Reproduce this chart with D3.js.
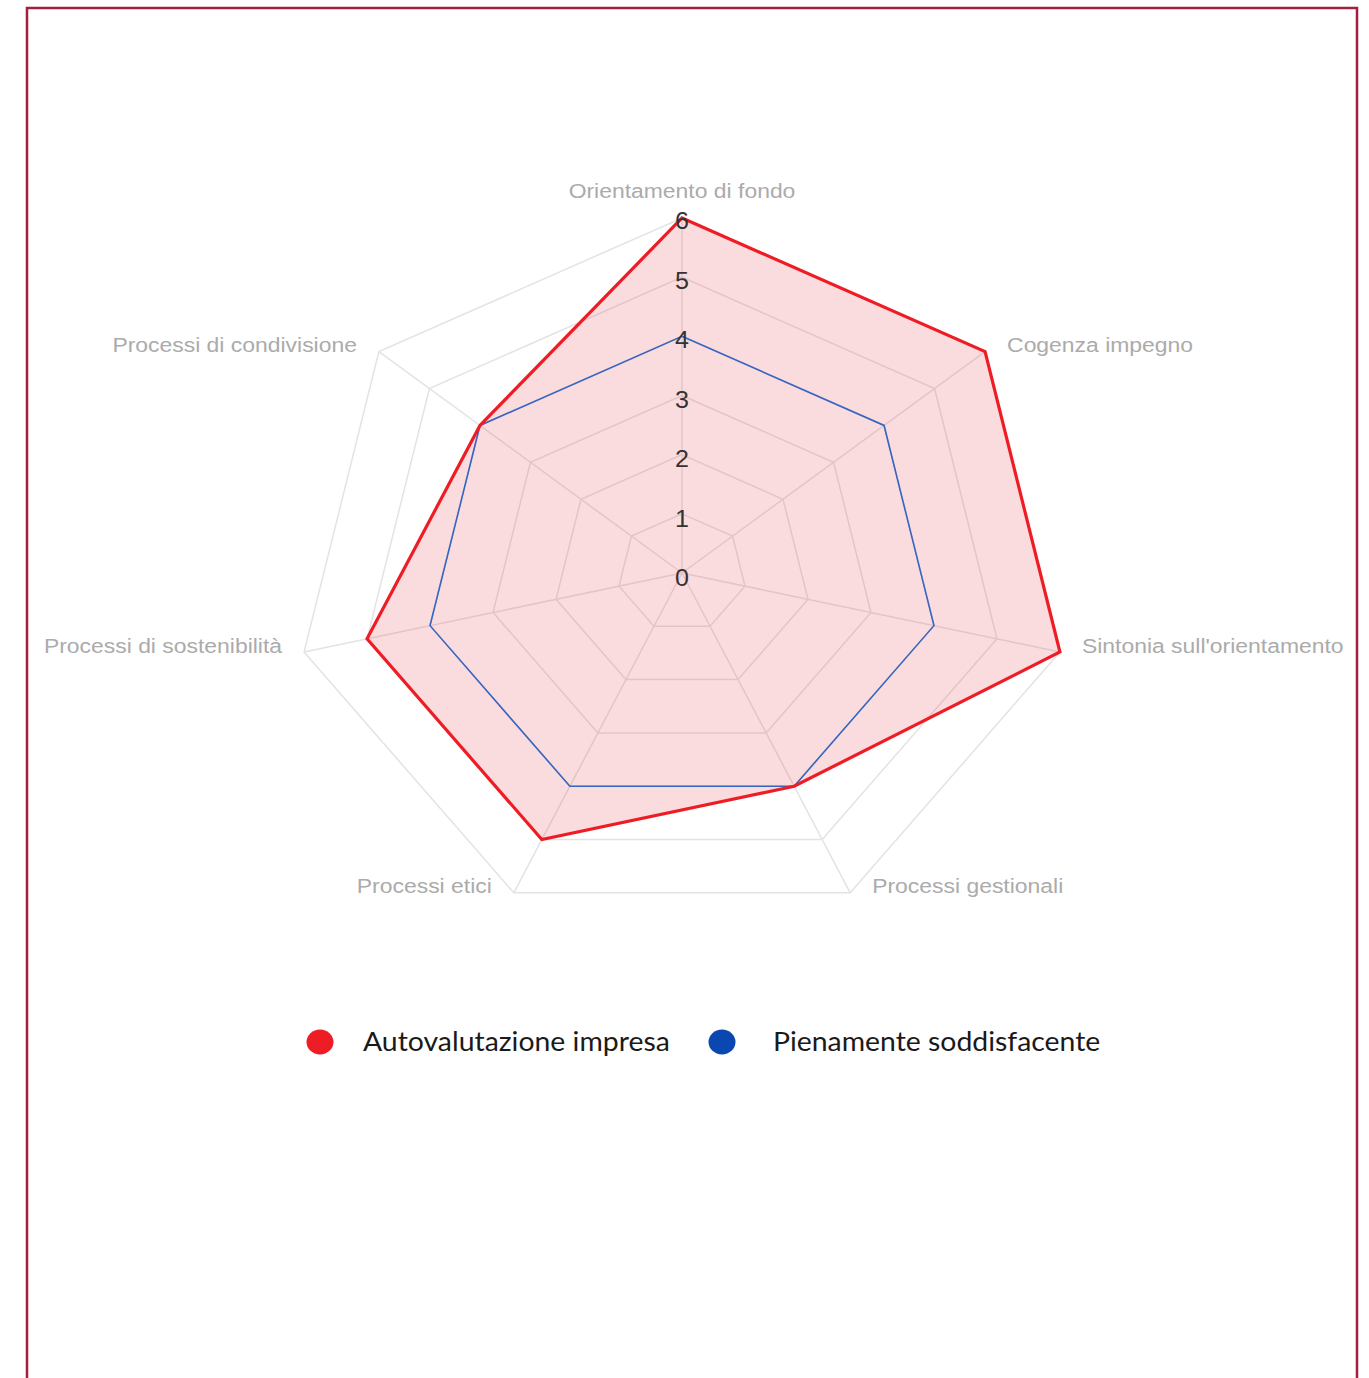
<!DOCTYPE html>
<html>
<head>
<meta charset="utf-8">
<script src="https://cdn.jsdelivr.net/npm/d3@7"></script>
<style>
  body { margin:0; background:#fff; }
  svg { display:block; }
</style>
</head>
<body>
<svg id="radar"></svg>
<script>

// data
var axisNames = ["Orientamento di fondo","Cogenza impegno","Sintonia sull'orientamento","Processi gestionali","Processi etici","Processi di sostenibilità","Processi di condivisione"]
var autovalutazione = [6,6,6,4,5,5,4]
var pienamente = [4,4,4,4,4,4,4]
var tickValues = [0,1,2,3,4,5,6]
var seriesNames = ["Autovalutazione impresa","Pienamente soddisfacente"]
var seriesColors = ["#ee1c25","#0a47b0"]

var screen = {width:1369, height:1378}
var center = {x:682, y:573}
var stretch = 1.092   // the picture is a bit wider than tall

var svg = d3.select("#radar")
    .attr("width", screen.width)
    .attr("height", screen.height)

// frame
svg.append("rect")
    .attr("x",27).attr("y",8)
    .attr("width",1330).attr("height",1420)
    .attr("fill","none")
    .attr("stroke","#a31f41")
    .attr("stroke-width",2.5)

var rScale = d3.scaleLinear()
    .domain([0,6])
    .range([0,355])

var angle = d3.scaleLinear()
    .domain([0, axisNames.length])
    .range([0, 2*Math.PI])

var point = function(i, v)
{
    var a = angle(i)
    return [center.x + rScale(v)*Math.sin(a)*stretch, center.y - rScale(v)*Math.cos(a)]
}

var polygon = function(values)
{
    return values.map(function(v,i){ return point(i,v) })
}

var line = d3.line().curve(d3.curveLinearClosed)

var grid = svg.append("g")

// rings
grid.selectAll("path.ring")
    .data(tickValues.slice(1))
    .enter()
    .append("path")
    .attr("class","ring")
    .attr("d", function(t){ return line(axisNames.map(function(n,i){ return point(i,t) })) })
    .attr("fill","none")
    .attr("stroke","#e3e3e3")
    .attr("stroke-width",1.5)

// spokes
grid.selectAll("line.spoke")
    .data(axisNames)
    .enter()
    .append("line")
    .attr("class","spoke")
    .attr("x1",center.x).attr("y1",center.y)
    .attr("x2",function(d,i){ return point(i,6)[0] })
    .attr("y2",function(d,i){ return point(i,6)[1] })
    .attr("stroke","#e3e3e3")
    .attr("stroke-width",1.5)

// series
var series = svg.append("g")

series.append("path")
    .attr("d", line(polygon(autovalutazione)))
    .attr("fill","rgba(232,70,80,0.19)")
    .attr("stroke","none")

series.append("path")
    .attr("d", line(polygon(pienamente)))
    .attr("fill","none")
    .attr("stroke","#3566c4")
    .attr("stroke-width",1.6)

series.append("path")
    .attr("d", line(polygon(autovalutazione)))
    .attr("fill","none")
    .attr("stroke",seriesColors[0])
    .attr("stroke-width",3.2)
    .attr("stroke-linejoin","miter")

// tick labels
svg.append("g")
    .selectAll("g")
    .data(tickValues)
    .enter()
    .append("g")
    .attr("transform", function(t){ return "translate(" + center.x + "," + (center.y - rScale(t) + 3 + (6-t)*0.3) + ") scale(" + stretch + ",1)" })
    .append("text")
    .text(function(t){ return t })
    .attr("text-anchor","middle")
    .attr("dy","0.36em")
    .attr("font-family","'Liberation Sans', Arial, sans-serif")
    .attr("font-size",23)
    .attr("fill","#333")

// axis labels
var labels = svg.append("g")

labels.selectAll("g")
    .data(axisNames)
    .enter()
    .append("g")
    .attr("transform", function(d,i)
    {
        var p = point(i,6)
        var s = Math.sin(angle(i))
        var x = p[0], y = p[1]
        if (Math.abs(s) < 0.01) { y = y - 28 }
        else { x = x + (s > 0 ? 22 : -22); y = y - 7 }
        return "translate(" + x + "," + y + ") scale(" + stretch + ",1)"
    })
    .append("text")
    .text(function(d){ return d })
    .attr("text-anchor", function(d,i)
    {
        var s = Math.sin(angle(i))
        if (Math.abs(s) < 0.01) return "middle"
        return s > 0 ? "start" : "end"
    })
    .attr("dy","0.36em")
    .attr("font-family","'Liberation Sans', Arial, sans-serif")
    .attr("font-size",21)
    .attr("fill","#ababab")

// legend
var legendX = d3.scaleOrdinal()
    .domain(seriesNames)
    .range([320, 722])

var legend = svg.append("g")
    .selectAll("g")
    .data(seriesNames)
    .enter()
    .append("g")
    .attr("transform", function(d){ return "translate(" + legendX(d) + ",1042)" })

legend.append("ellipse")
    .attr("rx",13.5).attr("ry",12.5)
    .attr("fill", function(d,i){ return seriesColors[i] })

legend.append("g")
    .attr("transform", function(d,i){ return "translate(" + (i == 0 ? 43 : 51) + ",0) scale(" + stretch + ",1)" })
    .append("text")
    .text(function(d){ return d })
    .attr("dy","0.35em")
    .attr("font-family","Lato, 'Open Sans', sans-serif")
    .attr("font-size",26)
    .attr("fill","#1a1a1a")

</script>
</body>
</html>
